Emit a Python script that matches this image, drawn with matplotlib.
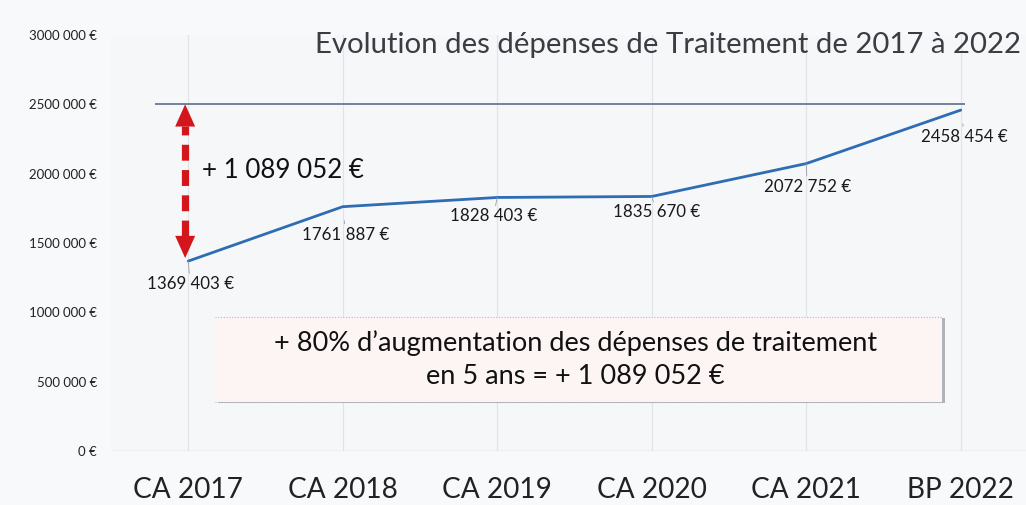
import matplotlib
matplotlib.use("Agg")
import matplotlib.pyplot as plt
from matplotlib.patches import FancyArrowPatch, Rectangle
from matplotlib import patheffects as pe

plt.rcParams['font.family'] = ['Lato', 'DejaVu Sans']

# Data
categories = ["CA 2017", "CA 2018", "CA 2019", "CA 2020", "CA 2021", "BP 2022"]
depenses = [1369403, 1761887, 1828403, 1835670, 2072752, 2458454]
value_labels = ["1369 403 €", "1761 887 €", "1828 403 €", "1835 670 €", "2072 752 €", "2458 454 €"]
ytick_values = [0, 500000, 1000000, 1500000, 2000000, 2500000, 3000000]
ytick_labels = ["0 €", "500 000 €", "1000 000 €", "1500 000 €", "2000 000 €", "2500 000 €", "3000 000 €"]
title = "Evolution des dépenses de Traitement de 2017 à 2022"
increase_label = "+ 1 089 052 €"
summary_lines = ["+ 80% d’augmentation des dépenses de traitement", "en 5 ans = + 1 089 052 €"]
reference_level = 2500000

# label offsets in pixels (dx, dy) relative to each point
label_offsets = [(2, -23), (3, -28), (-4, -19), (5, -16), (1, -23), (4, -27)]

W, H = 1026, 505
fig = plt.figure(figsize=(W / 100, H / 100), dpi=100, facecolor="#f8f9fb")
ax = fig.add_axes([111 / W, (H - 451) / H, 927 / W, 416 / H])
ax.set_facecolor("#f6f7f9")

x = list(range(len(categories)))
ax.set_xlim(-0.5, 5.5)
ax.set_ylim(0, 3000000)

for s in ax.spines.values():
    s.set_visible(False)
ax.axhline(0, color="#d3d7dc", lw=1.0, zorder=1)

ax.set_xticks(x)
ax.set_xticklabels(categories, fontsize=20.2, color="#222222")
ax.set_yticks(ytick_values)
ax.set_yticklabels(ytick_labels, fontsize=9.5, color="#222222")
ax.tick_params(axis="both", length=0)
ax.tick_params(axis="y", pad=10)
ax.tick_params(axis="x", pad=19)
ax.grid(axis="x", color="#e0e4e9", lw=0.8)
ax.grid(axis="y", visible=False)

# Reference level line
ax.hlines(reference_level, -0.214, 5.03, color="#5d6f8e", lw=1.2, zorder=2)

# Series
ax.plot(x, depenses, color="#2e6cb3", lw=2.0, zorder=4, solid_capstyle="round")

for xi, yi, lab, (dx, dy) in zip(x, depenses, value_labels, label_offsets):
    ax.annotate(lab, xy=(xi, yi), xytext=(dx, dy), textcoords="offset pixels",
                ha="center", va="center", fontsize=12.2, color="#1a1a1a", zorder=5,
                arrowprops=dict(arrowstyle="-", color="#9aa0a8", lw=0.6,
                                shrinkA=0, shrinkB=10))

# Red double arrow showing the increase
ax_x = -0.02
bottom = depenses[0] + 22000
px_per_unit = (416 / 3000000)
head_val = 22 / px_per_unit
red = "#d3161b"
ax.plot([ax_x, ax_x], [bottom + head_val, reference_level - head_val], color=red,
        lw=5.2, dashes=(2.2, 1.3), solid_capstyle="butt", zorder=6)
arrow = FancyArrowPatch(posA=(ax_x, bottom), posB=(ax_x, reference_level),
                        arrowstyle="<|-|>,head_length=1.6,head_width=0.72",
                        mutation_scale=10, lw=0, color=red, shrinkA=0, shrinkB=0, zorder=6)
ax.add_patch(arrow)
ax.text(0.09, 2026000, increase_label, fontsize=18.7, color="#111111",
        ha="left", va="center", zorder=6)

# Summary box
box = Rectangle((0.175, 353000), 4.705, 613000, facecolor="#fdf5f4", edgecolor="none",
                zorder=3, path_effects=[pe.SimplePatchShadow(offset=(2, -1), shadow_rgbFace="#6b7078", alpha=0.5), pe.Normal()])
ax.add_patch(box)
for yb in (353000, 966000):
    ax.hlines(yb, 0.175, 4.88, color="#b4b8be", lw=0.8, linestyles=(0, (1, 1.5)), zorder=3)
ax.text(2.505, 778000, summary_lines[0], fontsize=19.5, color="#111111",
        ha="center", va="center", zorder=6)
ax.text(2.505, 534000, summary_lines[1], fontsize=19.5, color="#111111",
        ha="center", va="center", zorder=6)

fig.text(1021 / W, (H - 45) / H, title, fontsize=21.2, color="#3a3d42",
         ha="right", va="center")

fig.savefig("out.png", dpi=100, facecolor=fig.get_facecolor())
